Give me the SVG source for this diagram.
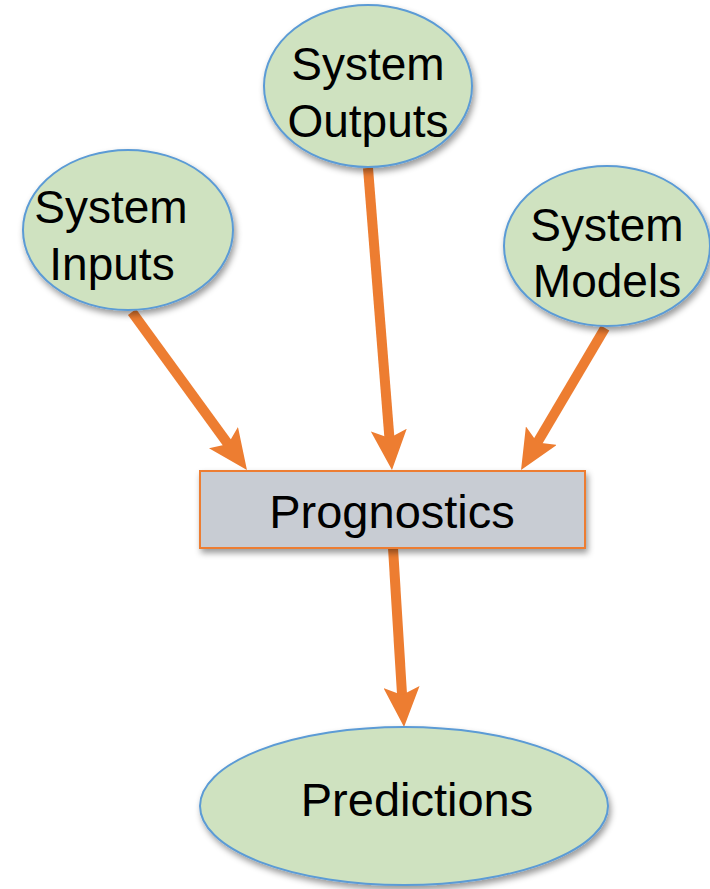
<svg xmlns="http://www.w3.org/2000/svg" width="710" height="889" viewBox="0 0 710 889">
<style>
.node{fill:#cfe2c0;stroke:#5b9bd5;stroke-width:2;filter:url(#sh)}
.box{fill:#c8ccd3;stroke:#ed7d31;stroke-width:2;filter:url(#sh)}
.t{font-family:"Liberation Sans",Arial,sans-serif;font-size:46px;fill:#000;text-anchor:middle}
.big{font-size:47px}
.edge{stroke:#ed7d31;stroke-width:10;fill:none;marker-end:url(#ah)}
</style>
<defs>
<filter id="sh" x="-20%" y="-20%" width="140%" height="150%">
<feDropShadow dx="2" dy="4" stdDeviation="3" flood-color="#000" flood-opacity="0.4"/>
</filter>
<marker id="ah" viewBox="0 0 40 36" refX="10" refY="18" markerWidth="40" markerHeight="36" markerUnits="userSpaceOnUse" orient="auto">
<path d="M0,0 L40,18 L0,36 L8,18 z" fill="#ed7d31"/>
</marker>
</defs>
<rect width="710" height="889" fill="#fff"/>
<g id="connectors">
<line class="edge" x1="132" y1="312" x2="229.3" y2="445.7"/>
<line class="edge" x1="368" y1="168" x2="389.6" y2="440.1"/>
<line class="edge" x1="605" y1="328" x2="536.3" y2="444.2"/>
<line class="edge" x1="393" y1="548" x2="402.2" y2="697.1"/>
</g>
<g id="system-inputs">
<ellipse class="node" cx="128" cy="230" rx="105" ry="80"/>
<text class="t" x="111" y="223">System</text>
<text class="t" x="112" y="280">Inputs</text>
</g>
<g id="system-outputs">
<ellipse class="node" cx="368" cy="86" rx="104" ry="81"/>
<text class="t" x="368" y="80">System</text>
<text class="t" x="368" y="137">Outputs</text>
</g>
<g id="system-models">
<ellipse class="node" cx="607" cy="246" rx="103" ry="80"/>
<text class="t" x="607" y="241">System</text>
<text class="t" x="607" y="297">Models</text>
</g>
<g id="prognostics">
<rect class="box" x="200" y="471" width="385" height="77"/>
<text class="t big" x="392" y="528">Prognostics</text>
</g>
<g id="predictions">
<ellipse class="node" cx="404" cy="806" rx="204" ry="79"/>
<text class="t big" x="417" y="816">Predictions</text>
</g>
</svg>
